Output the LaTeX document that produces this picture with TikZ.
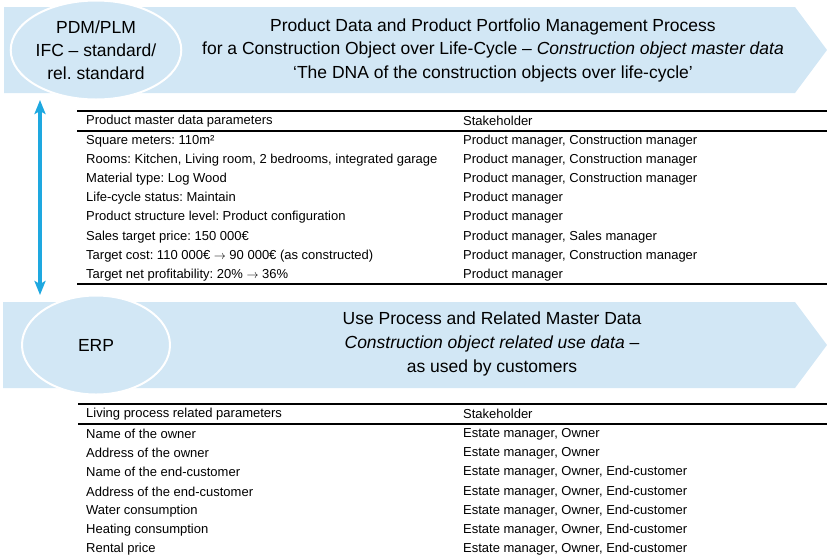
\documentclass[tikz,border=0pt]{standalone}
\usepackage{fontspec}
\setmainfont{Liberation Sans}
\usetikzlibrary{arrows.meta,shapes.geometric}
\definecolor{bandblue}{RGB}{210,231,245}
\definecolor{arrowblue}{RGB}{30,168,224}
\newcommand{\rarr}{\ensuremath{\rightarrow}}
\tikzset{
  band/.style={fill=bandblue,draw=none},
  oval/.style={ellipse,fill=bandblue,draw=white,line width=2pt,minimum width=148pt,minimum height=99pt,inner sep=0pt,align=center,font=\fontsize{17.5}{23}\selectfont},
  title/.style={align=center,inner sep=0pt,font=\fontsize{17.5}{23.5}\selectfont},
  cell/.style={anchor=west,inner sep=0pt,font=\fontsize{13}{14}\selectfont},
  rule/.style={line width=2pt},
  link/.style={arrowblue,line width=3.2pt,{Stealth[length=14pt,width=11pt,inset=3pt]}-{Stealth[length=14pt,width=11pt,inset=3pt]}}
}
\begin{document}
\frenchspacing
\begin{tikzpicture}[x=1pt,y=-1pt]
\useasboundingbox (0,0) rectangle (827,558);
% top band
\path[band] (4,7) -- (795,7) -- (827,50) -- (795,93) -- (4,93) -- cycle;
\node[oval] (pdm) at (96,50) {PDM/PLM\\IFC -- standard/\\rel. standard};
\node[title] (t1) at (493,50) {Product Data and Product Portfolio Management Process\\for a Construction Object over Life-Cycle -- \textit{Construction object master data}\\`The DNA of the construction objects over life-cycle'};
% second band
\path[band] (3,302) -- (795,302) -- (827,345) -- (795,388) -- (3,388) -- cycle;
\node[oval] (erp) at (96,345) {ERP};
\node[title,font=\fontsize{17.5}{24}\selectfont] (t2) at (492,344) {Use Process and Related Master Data\\\textit{Construction object related use data} --\\as used by customers};
% link
\coordinate (up) at (40,100);
\coordinate (down) at (40,295);
\draw[link] (up) -- (down);
% table 1
\coordinate (a1) at (77,111); \coordinate (b1) at (827,111);
\coordinate (a2) at (77,131); \coordinate (b2) at (827,131);
\coordinate (a3) at (77,284); \coordinate (b3) at (827,284);
\draw[rule] (a1) -- (b1);
\draw[rule] (a2) -- (b2);
\draw[rule] (a3) -- (b3);
\node[cell] (h1) at (86,121) {Product master data parameters};
\node[cell] (h2) at (463,121) {Stakeholder};
\foreach \y/\p/\s [count=\i] in {
 141/{Square meters: 110m²}/{Product manager, Construction manager},
 160/{Rooms: Kitchen, Living room, 2 bedrooms, integrated garage}/{Product manager, Construction manager},
 179/{Material type: Log Wood}/{Product manager, Construction manager},
 198/{Life-cycle status: Maintain}/{Product manager},
 217/{Product structure level: Product configuration}/{Product manager},
 237/{Sales target price: 150 000€}/{Product manager, Sales manager},
 256/{Target cost: 110 000€ \rarr{} 90 000€ (as constructed)}/{Product manager, Construction manager},
 275/{Target net profitability: 20\% \rarr{} 36\%}/{Product manager}}{
  \node[cell] (p\i) at (86,\y) {\p};
  \node[cell] (s\i) at (463,\y) {\s};
}
% table 2
\coordinate (c1) at (78,404); \coordinate (d1) at (827,404);
\coordinate (c2) at (78,424); \coordinate (d2) at (827,424);
\draw[rule] (c1) -- (d1);
\draw[rule] (c2) -- (d2);
\node[cell] (g1) at (86,414) {Living process related parameters};
\node[cell] (g2) at (463,414) {Stakeholder};
\foreach \y/\p/\s [count=\i] in {
 434/{Name of the owner}/{Estate manager, Owner},
 453/{Address of the owner}/{Estate manager, Owner},
 472/{Name of the end-customer}/{Estate manager, Owner, End-customer},
 492/{Address of the end-customer}/{Estate manager, Owner, End-customer},
 511/{Water consumption}/{Estate manager, Owner, End-customer},
 530/{Heating consumption}/{Estate manager, Owner, End-customer},
 549/{Rental price}/{Estate manager, Owner, End-customer}}{
  \node[cell] (q\i) at (86,\y) {\p};
  \node[cell] (r\i) at (463,\y) {\s};
}
\end{tikzpicture}
\end{document}
